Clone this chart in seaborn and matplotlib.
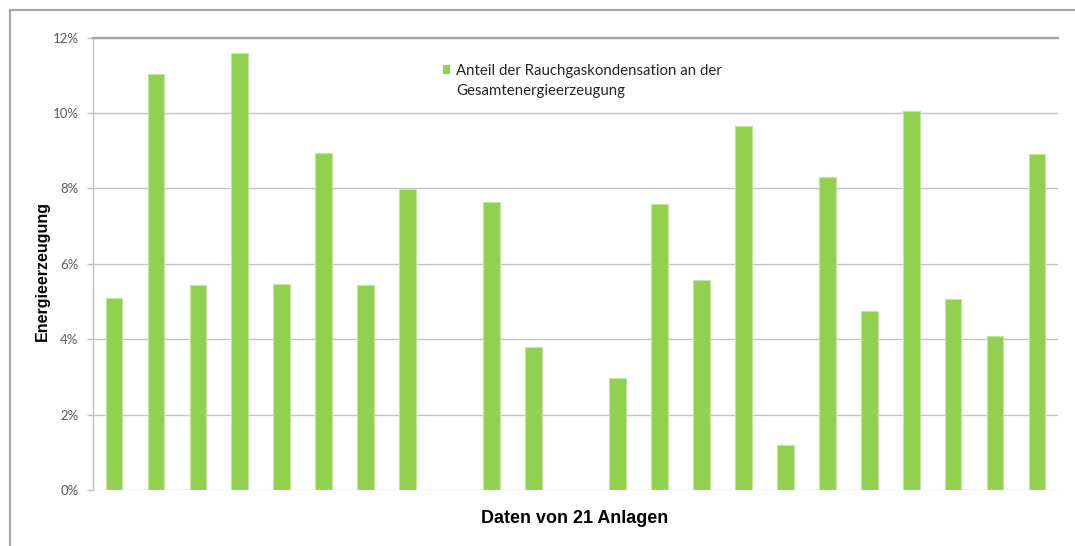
import numpy as np
import pandas as pd
import matplotlib
matplotlib.use("Agg")
import matplotlib.pyplot as plt
from matplotlib.lines import Line2D
from matplotlib.patches import Rectangle
from matplotlib.ticker import PercentFormatter
import seaborn as sns

# ---- data (23 slots, two without a value) ----
slots = [str(i) for i in range(1, 24)]
values = [5.09, 11.04, 5.44, 11.58, 5.46, 8.94, 5.44, 7.99, None,
          7.64, 3.80, None, 2.97, 7.59, 5.58, 9.65, 1.19, 8.29,
          4.75, 10.06, 5.07, 4.09, 8.92]
legend_line1 = "Anteil der Rauchgaskondensation an der"
legend_line2 = "Gesamtenergieerzeugung"
x_label = "Daten von 21 Anlagen"
y_label = "Energieerzeugung"
y_ticks = [0, 2, 4, 6, 8, 10, 12]

sns.set_theme(style="white")
plt.rcParams["font.family"] = ["Lato", "DejaVu Sans"]

df = pd.DataFrame({"slot": slots, "value": values}).dropna()

fig = plt.figure(figsize=(10.75, 5.46), dpi=100)
ax = fig.add_axes([93 / 1075, 1 - 490 / 546, 965 / 1075, 452.5 / 546])

green = "#92D050"
sns.barplot(data=df, x="slot", y="value", order=slots, color=green,
            saturation=1, width=0.4, errorbar=None, ax=ax,
            edgecolor="#c3e59c", linewidth=0.8)

ax.set_xlim(-0.5, len(slots) - 0.5)
ax.set_ylim(0, 12)
ax.set_yticks(y_ticks)
ax.yaxis.set_major_formatter(PercentFormatter(decimals=0))
ax.set_xticks([])
ax.tick_params(axis="y", length=4, width=1, color="#bfbfbf", pad=6.5,
               labelsize=9.5, labelcolor="#595959", left=True)
ax.grid(axis="y", color="#c4c4c4", linewidth=1.0)
ax.set_axisbelow(True)

for s in ["right", "bottom"]:
    ax.spines[s].set_visible(False)
ax.spines["left"].set_color("#bfbfbf")
ax.spines["left"].set_linewidth(1.0)
ax.spines["top"].set_color("#a6a6a6")
ax.spines["top"].set_linewidth(1.6)

ax.set_xlabel(x_label, fontsize=12.85, fontweight="bold",
              family=["Liberation Sans", "DejaVu Sans"], color="black")
ax.xaxis.label.set_va("center")
ax.xaxis.set_label_coords(0.4995, -0.064)
ax.set_ylabel(y_label, fontsize=11.5, fontweight="bold",
              family=["Liberation Sans", "DejaVu Sans"], color="black")
ax.yaxis.label.set_va("center")
ax.yaxis.set_label_coords(-0.0528, 0.483)

# legend: two entries so the marker sits next to the first line
h1 = Rectangle((0, 0), 1, 1, facecolor=green, edgecolor="none")
h2 = Rectangle((0, 0), 1, 1, facecolor=green, edgecolor="none", alpha=0.0)
leg = fig.legend([h1, h2], [legend_line1, legend_line2],
                 loc="upper left", bbox_to_anchor=(442.7 / 1075, 1 - 64 / 546),
                 frameon=False, fontsize=10.8, borderpad=0, borderaxespad=0,
                 handlelength=0.5, handleheight=0.5, handletextpad=0.4,
                 labelspacing=0.4)
for t in leg.get_texts():
    t.set_color("#262626")

# outer chart frame (top and left edges)
fig.add_artist(Line2D([9.5 / 1075, 1], [1 - 10 / 546, 1 - 10 / 546],
                      color="#a6a6a6", linewidth=1.6,
                      transform=fig.transFigure))
fig.add_artist(Line2D([9.5 / 1075, 9.5 / 1075], [0, 1 - 10 / 546],
                      color="#a6a6a6", linewidth=1.6,
                      transform=fig.transFigure))

fig.savefig("out.png", dpi=100)
